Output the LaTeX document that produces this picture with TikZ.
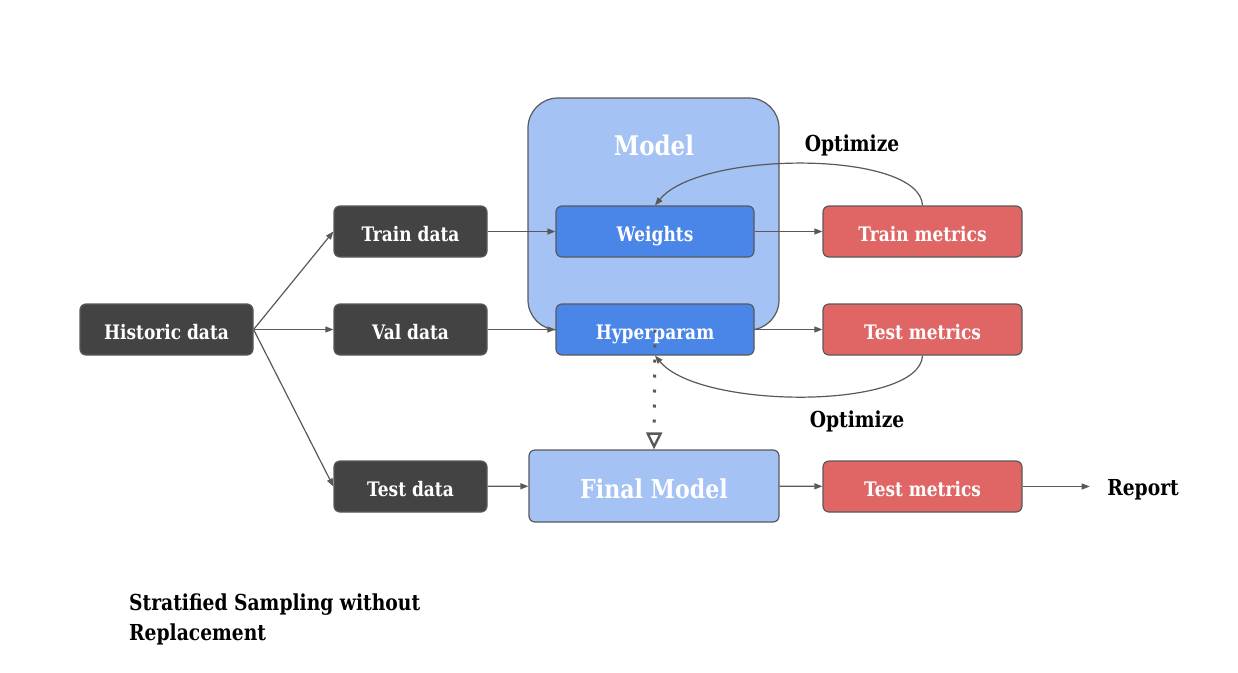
\documentclass[tikz,border=0pt]{standalone}
\usepackage{fontspec}
\setmainfont[FakeStretch=0.85]{DejaVu Serif}
\usetikzlibrary{arrows.meta,positioning}
\definecolor{DarkBox}   {HTML}{434343}
\definecolor{EdgeGray}  {HTML}{595959}
\definecolor{LightBlue} {HTML}{A4C2F4}
\definecolor{MidBlue}   {HTML}{4A86E8}
\definecolor{MetricRed} {HTML}{E06666}

\begin{document}
\begin{tikzpicture}[x=1pt,y=-1pt,
  box/.style={draw=EdgeGray,line width=1.2pt,rounded corners=6pt,text=white,
              font=\fontsize{20}{24}\selectfont\bfseries,minimum height=51pt,inner sep=0pt,
              text height=23pt,text depth=4pt},
  databox/.style={box,fill=DarkBox,minimum width=153pt},
  parambox/.style={box,fill=MidBlue,minimum width=198pt},
  metricbox/.style={box,fill=MetricRed,minimum width=199pt},
  note/.style={font=\fontsize{22}{30}\selectfont\bfseries},
  arr/.style={-{Triangle[length=8pt,width=6pt]},color=EdgeGray,line width=1.2pt}
]
  \useasboundingbox (0,0) rectangle (1238,672);

  % model container
  \node[draw=EdgeGray,fill=LightBlue,line width=1.2pt,rounded corners=30pt,
        minimum width=251pt,minimum height=232pt] (model) at (653.5,214) {};
  \node[text=white,font=\fontsize{27}{32}\selectfont\bfseries] (modeltitle) at (654,145) {Model};

  \node[databox,minimum width=173pt] (hist) at (166.5,329.5) {Historic data};
  \node[databox] (train) at (410.5,231.5) {Train data};
  \node[databox] (val)   at (410.5,329.5) {Val data};
  \node[databox] (test)  at (410.5,486.5) {Test data};

  \node[parambox] (weights) at (655,231.5) {Weights};
  \node[parambox] (hyper)   at (655,329.5) {Hyperparam};

  \node[box,fill=LightBlue,minimum width=250pt,minimum height=72pt,text height=28pt,
        font=\fontsize{26}{30}\selectfont\bfseries] (final) at (654,486) {Final Model};

  \node[metricbox] (trainm) at (922.5,231.5) {Train metrics};
  \node[metricbox] (testm)  at (922.5,329.5) {Test metrics};
  \node[metricbox] (finalm) at (922.5,486.5) {Test metrics};

  \node[note] (report) at (1143,490) {Report};
  \node[note] (opttop) at (852,145) {Optimize};
  \node[note] (optbot) at (857,421) {Optimize};
  \node[note,anchor=north west,align=left,inner sep=0pt] (strat) at (129,594)
        {Stratified Sampling without\\Replacement};

  \draw[arr] (hist.east)--(train.west);
  \draw[arr] (hist.east)--(val.west);
  \draw[arr] (hist.east)--(test.west);
  \draw[arr] (train)--(weights); \draw[arr] (val)--(hyper); \draw[arr] (test)--(final);
  \draw[arr] (weights)--(trainm); \draw[arr] (hyper)--(testm); \draw[arr] (final)--(finalm);
  \draw[arr,shorten >=14pt] (finalm.east)--(finalm.east -| report.west);

  \draw[arr] (trainm.north) .. controls (920,150) and (700,150) .. (weights.north);
  \draw[arr] (testm.south) .. controls (920,410) and (700,410) .. (hyper.south);

  \draw[color=EdgeGray,line width=3pt,dash pattern=on 3pt off 12pt,
        -{Triangle[open,length=17pt,width=16pt,line width=2.4pt]}] (hyper.center)--(final.north);
\end{tikzpicture}
\end{document}
